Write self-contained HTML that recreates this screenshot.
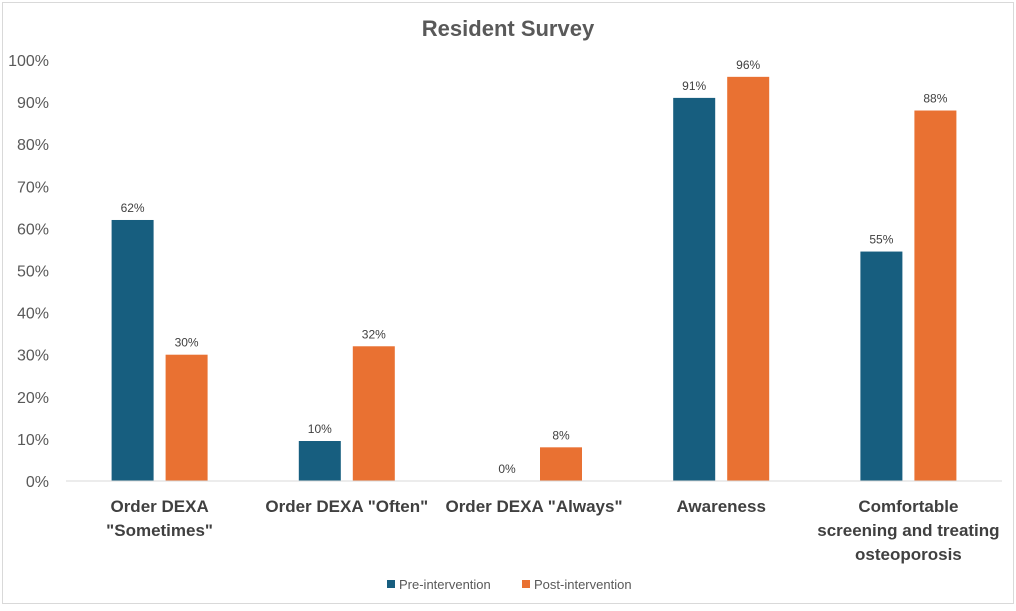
<!DOCTYPE html>
<html><head><meta charset="utf-8"><style>
body{margin:0;background:#fff;font-family:"Liberation Sans",sans-serif;}
svg text{font-family:"Liberation Sans",sans-serif;}
</style></head><body>
<svg id="chart" width="1016" height="606" viewBox="0 0 1016 606">
<rect x="2.5" y="2.5" width="1011" height="601" fill="#fff" stroke="#d9d9d9"/>
<text x="508" y="36" text-anchor="middle" font-size="22" font-weight="bold" fill="#595959">Resident Survey</text>
<g id="yaxis"></g><g id="bars"></g><g id="xlabels"></g>
<line x1="66" y1="481" x2="1002" y2="481" stroke="#d9d9d9" stroke-width="1"/>
<g>
<rect x="387" y="580" width="8" height="8" fill="#175e7f"/>
<text x="399" y="589" font-size="13" fill="#595959">Pre-intervention</text>
<rect x="522" y="580" width="8" height="8" fill="#e97132"/>
<text x="534" y="589" font-size="13" fill="#595959">Post-intervention</text>
</g>
</svg>
<script>
const categories=[["Order DEXA","\"Sometimes\""],["Order DEXA \"Often\""],["Order DEXA \"Always\""],["Awareness"],["Comfortable","screening and treating","osteoporosis"]];
const preValues=[62,9.5,0,91,54.5];
const postValues=[30,32,8,96,88];
const preLabels=["62%","10%","0%","91%","55%"];
const postLabels=["30%","32%","8%","96%","88%"];
const yTicks=[0,10,20,30,40,50,60,70,80,90,100];
const NS="http://www.w3.org/2000/svg";
const x0=66,x1=1002,yBase=481,yTop=60;
const bandW=(x1-x0)/categories.length;
function y(v){return yBase-(yBase-yTop)*v/100;}
function band(i){return x0+bandW*(i+0.5);}
function mk(tag,attrs,parent){const e=document.createElementNS(NS,tag);for(const k in attrs)e.setAttribute(k,attrs[k]);parent.appendChild(e);return e;}
const ya=document.getElementById('yaxis');
yTicks.forEach(t=>{const e=mk('text',{x:49,y:y(t)+6,'text-anchor':'end','font-size':'16',fill:'#595959'},ya);e.textContent=t+'%';

});
const bg=document.getElementById('bars');
const bw=42,gap=12;
categories.forEach((c,i)=>{
 const cx=band(i);
 const r1=mk('rect',{x:cx-gap/2-bw,y:y(preValues[i]),width:bw,height:yBase-y(preValues[i]),fill:'#175e7f'},bg);
 
 
 const r2=mk('rect',{x:cx+gap/2,y:y(postValues[i]),width:bw,height:yBase-y(postValues[i]),fill:'#e97132'},bg);
 
 
 const l1=mk('text',{x:cx-gap/2-bw/2,y:y(preValues[i])-8,'text-anchor':'middle','font-size':'12',fill:'#404040'},bg);l1.textContent=preLabels[i];
 
 
 const l2=mk('text',{x:cx+gap/2+bw/2,y:y(postValues[i])-8,'text-anchor':'middle','font-size':'12',fill:'#404040'},bg);l2.textContent=postLabels[i];
 
 
 const xl=document.getElementById('xlabels');
 c.forEach((line,j)=>{const t=mk('text',{x:cx,y:512+j*24,'text-anchor':'middle','font-size':'17','font-weight':'bold',fill:'#404040'},xl);t.textContent=line;
 
 });
});
</script>
</body></html>
